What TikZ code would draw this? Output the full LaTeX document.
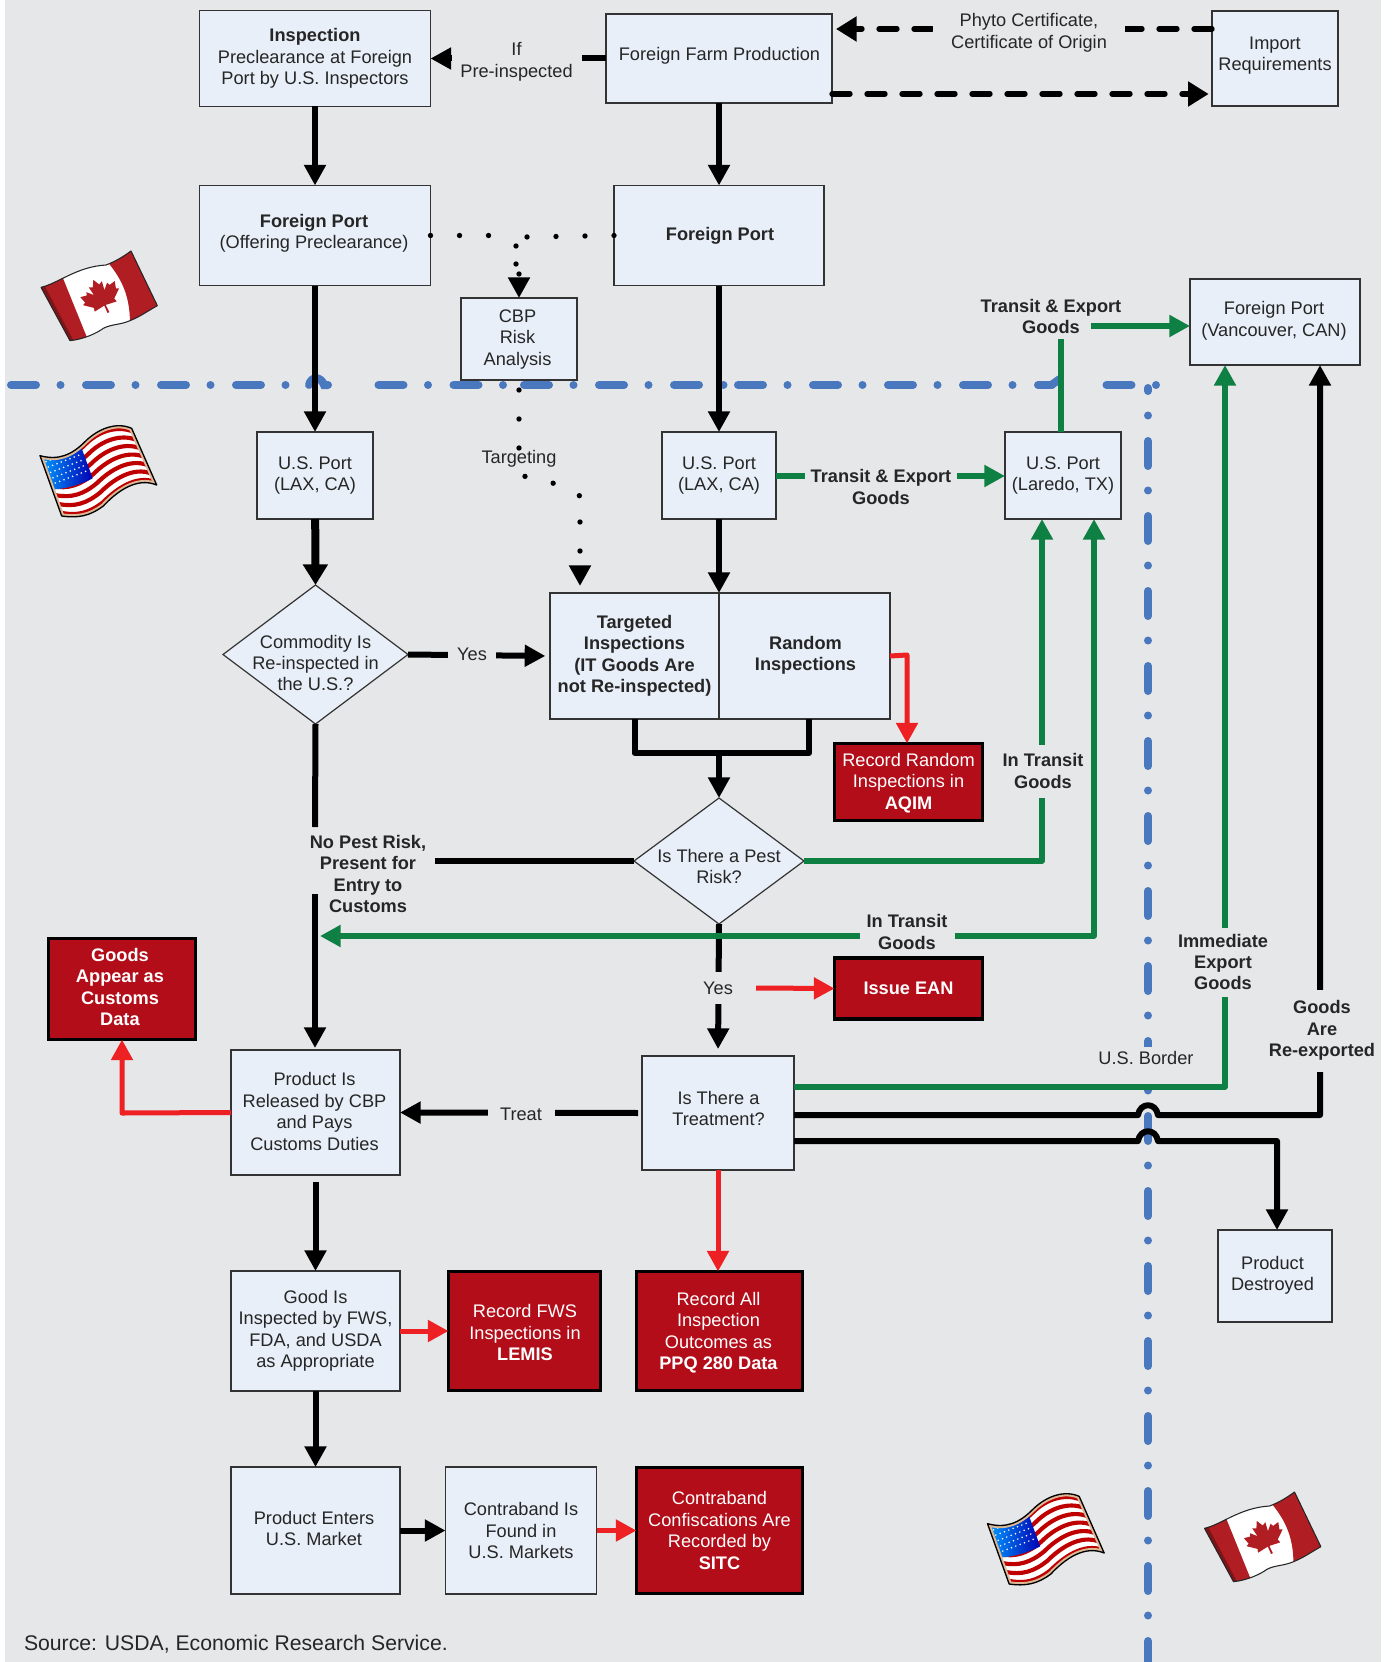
\documentclass[tikz,border=0pt]{standalone}
\usepackage{fontspec}
\setmainfont{Liberation Sans}
\usetikzlibrary{arrows.meta,shapes.geometric,calc}
\definecolor{bgc}{HTML}{E6E7E9}
\definecolor{boxc}{HTML}{E8EFF8}
\definecolor{edgec}{HTML}{333333}
\definecolor{redbox}{HTML}{B20D19}
\definecolor{redline}{HTML}{ED2024}
\definecolor{greenl}{HTML}{0F8043}
\definecolor{bluel}{HTML}{4A78BF}
\definecolor{txtc}{HTML}{262626}
\definecolor{flagred}{HTML}{B01E23}
\newcommand{\fs}{\fontsize{13.65}{16.1}\selectfont}
\tikzset{
  wh/.style 2 args={minimum width=#1*0.75pt,minimum height=#2*0.75pt},
  every node/.append style={font=\fs,text=txtc,align=center,inner sep=0pt,outer sep=0pt},
  lbox/.style={rectangle,draw=edgec,fill=boxc,line width=1.1pt},
  rbox/.style={rectangle,draw=black,fill=redbox,line width=2.5pt,text=white},
  dia/.style={diamond,draw=edgec,fill=boxc,line width=.9pt},
  lab/.style={rectangle,fill=bgc},
  blk/.style={draw=black,line width=4.5pt,line join=round},
  blkwide/.style={draw=black,line width=6pt,line join=round},
  dashk/.style={draw=black,line width=4pt,line cap=round,dash pattern=on 13.5pt off 12.75pt},
  dotk/.style={draw=black,line width=4pt,line cap=round,dash pattern=on 0pt off 21.75pt},
  dotkb/.style={draw=black,line width=4pt,line cap=round,dash pattern=on 0pt off 13.5pt},
  grn/.style={draw=greenl,line width=4pt,line join=round},
  rd/.style={draw=redline,line width=3.75pt,line join=round},
  blu/.style={draw=bluel,line width=6pt,line cap=round,dash pattern=on 18.75pt off 18.375pt on 0pt off 19.125pt},
}
\newcommand{\canflag}[2]{%
\begin{scope}[shift={(#1,#2)},x=.25pt,y=-.25pt]
\def\canpath{(123,202) .. controls (175,190) and (230,140) .. (318,135) .. controls (345,125) and (370,110) .. (393,93) -- (472,257) .. controls (440,275) and (420,290) .. (390,302) .. controls (360,315) and (335,312) .. (310,325) .. controls (290,340) and (250,358) .. (210,362) -- cycle}
\fill[white] \canpath;
\begin{scope}
\clip \canpath;
\fill[flagred] (100,150) -- (187,170) -- (268,370) -- (180,380) -- cycle;
\fill[flagred] (318,120) .. controls (360,170) and (390,220) .. (390,310) -- (500,300) -- (420,60) -- cycle;
\fill[flagred!70!black] (110,195) -- (135,200) -- (225,370) -- (200,370) -- cycle;
\end{scope}
\draw[black!85,line width=.8pt,line join=round] \canpath;
\begin{scope}[shift={(306,236)},rotate=25,x=1.55pt,y=1.55pt]
\fill[flagred] (0,10) -- (1.7,6.8) -- (3.5,7.7) -- (2.8,3.2) -- (5.5,6) -- (6.1,4.5) -- (9.2,5.1) -- (8.2,1.7) -- (9.6,1) -- (5.4,-2.4) -- (5.9,-4.2) -- (.4,-3.5) -- (.5,-7.4) -- (-.5,-7.4) -- (-.4,-3.5) -- (-5.9,-4.2) -- (-5.4,-2.4) -- (-9.6,1) -- (-8.2,1.7) -- (-9.2,5.1) -- (-6.1,4.5) -- (-5.5,6) -- (-2.8,3.2) -- (-3.5,7.7) -- (-1.7,6.8) -- cycle;
\end{scope}
\end{scope}}
\newcommand{\usaflag}[2]{%
\begin{scope}[shift={(#1,#2)},x=.25pt,y=-.25pt]
\def\uspath{(120,707) .. controls (175,722) and (215,705) .. (255,665) .. controls (295,625) and (350,605) .. (395,625) -- (470,795) .. controls (410,770) and (350,815) .. (310,858) .. controls (270,888) and (235,895) .. (185,888) -- cycle}
\coordinate (Ta) at (125,712);\coordinate (Tb) at (175,722);\coordinate (Tc) at (215,705);\coordinate (Td) at (255,665);\coordinate (Te) at (295,625);\coordinate (Tf) at (350,610);\coordinate (Tg) at (395,628);
\coordinate (Ba) at (187,885);\coordinate (Bb) at (235,895);\coordinate (Bc) at (270,885);\coordinate (Bd) at (310,855);\coordinate (Be) at (350,815);\coordinate (Bf) at (410,770);\coordinate (Bg) at (468,792);
\fill[white] \uspath;
\begin{scope}
\clip \uspath;
\foreach \s in {0.0385,0.192,0.346,0.5,0.654,0.808,0.962}{
\draw[line width=3.1pt,draw=red!75!black] ($(Ta)!\s!(Ba)$) .. controls ($(Tb)!\s!(Bb)$) and ($(Tc)!\s!(Bc)$) .. ($(Td)!\s!(Bd)$) .. controls ($(Te)!\s!(Be)$) and ($(Tf)!\s!(Bf)$) .. ($(Tg)!\s!(Bg)$);}
\shade[left color=cyan!60!blue,right color=blue!70!black] (125,712) .. controls (165,722) and (205,712) .. (245,685) -- (278,775) .. controls (240,795) and (200,805) .. (165,808) -- cycle;
\foreach \i in {0,...,7}{\foreach \j in {0,...,4}{
\fill[white] ({138+\i*13+\j*7},{725-\i*5+\j*16}) circle (2.6);}}
\draw[line width=4pt,draw=brown!55!white] \uspath;
\end{scope}
\draw[black,line width=1pt,line join=round] \uspath;
\end{scope}}
\begin{document}
\begin{tikzpicture}[x=.75pt,y=-.75pt,>={Triangle[width=15.75pt,length=15.5pt]}]
\useasboundingbox (0,0) rectangle (1392,1662);
\fill[white] (0,0) rectangle (1392,1662);
\fill[bgc] (5,0) rectangle (1381,1662);
% border
\draw[blu] (11,385) -- (300,385);
\draw[draw=bluel,line width=6pt,line cap=round] (309,385) .. controls (311,376) and (321,376) .. (324,385) -- (328,385);
\draw[blu,dash phase=37.125pt] (353,385) -- (510,385);
\draw[blu] (524,385) -- (725,385);
\draw[blu] (738,385) -- (1052,385);
\draw[draw=bluel,line width=6pt,line cap=round] (1050,385) .. controls (1053,385) and (1056,381) .. (1060,379);
\draw[blu,dash phase=37.125pt] (1081,385) -- (1157,385);
\draw[blu,dash phase=16.5pt] (1148,388) -- (1148,1662);
% flags
\canflag{0}{220}
\usaflag{0}{220}
\canflag{1163.5}{1461}
\usaflag{947.5}{1288}
% nodes
\node[lbox,wh={231}{96}] (insp) at (315,58.5) {\textbf{Inspection}\\Preclearance at Foreign\\Port by U.S. Inspectors};
\node[lbox,wh={226}{89}] (farm) at (719,58.5) {};
\node (farmt) at (719.5,56) {Foreign Farm Production};
\node[lbox,wh={126}{95}] (imp) at (1275,58.5) {};
\node (impt) at (1275,55.5) {Import\\Requirements};
\node[lbox,wh={231}{100}] (fpl) at (315,235.5) {};
\node (fplt) at (314,233.5) {\textbf{Foreign Port}\\(Offering Preclearance)};
\node[lbox,wh={210}{100}] (fpr) at (719,235.5) {};
\node (fprt) at (720,236) {\textbf{Foreign Port}};
\node[lbox,wh={116}{82}] (cbp) at (519,339) {};
\node (cbpt) at (517.5,339.5) {CBP\\Risk\\Analysis};
\node[lbox,wh={170}{86}] (van) at (1275,322) {};
\node (vant) at (1274,321) {Foreign Port\\(Vancouver, CAN)};
\node[lbox,wh={116}{87}] (usl) at (315,475.5) {U.S. Port\\(LAX, CA)};
\node[lbox,wh={114}{87}] (usm) at (719,475.5) {U.S. Port\\(LAX, CA)};
\node[lbox,wh={116}{87}] (lar) at (1063,475.5) {U.S. Port\\(Laredo, TX)};
\node[dia,wh={185}{139},aspect=1.33] (comm) at (315.5,654.5) {};
\node (commt) at (315.5,663) {Commodity Is\\Re-inspected in\\the U.S.?};
\node[lbox,wh={169}{126}] (targ) at (634.5,656) {\textbf{Targeted}\\\textbf{Inspections}\\\textbf{(IT Goods Are}\\\textbf{not Re-inspected)}};
\node[lbox,wh={171}{126}] (rand) at (804.5,656) {};
\node (randt) at (805.5,655.5) {\textbf{Random}\\\textbf{Inspections}};
\node[rbox,wh={148}{77}] (rr) at (908.5,782) {};
\node[text=white] (rrt) at (908.5,783) {Record Random\\Inspections in\\\textbf{AQIM}};
\node[dia,wh={170}{126},aspect=1.35] (pest) at (719,861) {};
\node (pestt) at (719,866.5) {Is There a Pest\\Risk?};
\node[rbox,wh={147}{101}] (appear) at (122,989) {};
\node[text=white] (appeart) at (120,987) {\textbf{Goods}\\\textbf{Appear as}\\\textbf{Customs}\\\textbf{Data}};
\node[rbox,wh={148}{61}] (ean) at (908.5,988.5) {\textbf{Issue EAN}};
\node[lbox,wh={169}{125}] (rel) at (315.5,1112.5) {};
\node (relt) at (314.5,1111.5) {Product Is\\Released by CBP\\and Pays\\Customs Duties};
\node[lbox,wh={152}{114}] (treat) at (718,1113) {};
\node (treatt) at (718.5,1108.5) {Is There a\\Treatment?};
\node[lbox,wh={114}{92}] (destr) at (1275,1276) {};
\node (destrt) at (1272.5,1275.5) {Product\\Destroyed};
\node[lbox,wh={169}{120}] (good) at (315.5,1331) {Good Is\\Inspected by FWS,\\FDA, and USDA\\as Appropriate};
\node[rbox,wh={152}{119}] (fws) at (524.5,1331) {};
\node[text=white] (fwst) at (525,1332.5) {Record FWS\\Inspections in\\\textbf{LEMIS}};
\node[rbox,wh={166}{119}] (ppq) at (719.5,1331) {};
\node[text=white] (ppqt) at (718.5,1332.5) {Record All\\Inspection\\Outcomes as\\\textbf{PPQ 280 Data}};
\node[lbox,wh={169}{127}] (enter) at (315.5,1530.5) {};
\node (entert) at (314,1528.5) {Product Enters\\U.S. Market};
\node[lbox,wh={151}{127}] (found) at (521,1530.5) {Contraband Is\\Found in\\U.S. Markets};
\node[rbox,wh={166}{126}] (conf) at (719.5,1530.5) {Contraband\\Confiscations Are\\Recorded by\\\textbf{SITC}};
% helper coordinates
\coordinate (dja) at (500,235.5);
\coordinate (djb) at (524,237);
\coordinate (dc) at (516,246);
\coordinate (dd) at (516,265);
\coordinate (de) at (519,274);
\coordinate (tg0) at (519,390);
\coordinate (tg1) at (519,448);
\coordinate (tg2) at (525,476.4);
\coordinate (tg4) at (552.7,483);
\coordinate (tg5) at (580,496);
\coordinate (tg6) at (580,522);
\coordinate (tg3) at (580,586);
\coordinate (brk) at (719,753);
\coordinate (np1) at (315,827);
\coordinate (np2) at (315,894);
\coordinate (np3) at (435,861);
\coordinate (gt1) at (1061,339);
\coordinate (gt2) at (1091,326);
\coordinate (yesr) at (756,988);
% black connectors
\draw[blk,->] (insp) -- (fpl);
\draw[blk,->] (farm) -- (fpr);
\draw[blk,->] (farm.west) -- (insp.east);
\draw[blk,->] (fpl) -- (usl);
\draw[blk,->] (fpr) -- (usm);
\draw[blkwide,-{Triangle[width=18pt,length=15.5pt]}] (usl) -- (comm.north);
\draw[blk,->] (usm.south) -- (rand.north west);
\draw[blk,->,shorten >=3.5pt] (comm.east) -- (targ.west);
\draw[blk] (targ.south) |- (brk) -| (rand.south -| 809,0);
\draw[blk,->] (brk) -- (pest.north);
\draw[blk] (comm.south) -- (np1);
\draw[blk,->,shorten >=1.5pt] (np2) -- (rel.north -| 315,0);
\draw[blk] (pest.west) -- (np3);
\draw[blk,->,shorten >=5.25pt] (pest.south) -- (treat.north);
\draw[blk,->,shorten <=3pt] (treat.west) -- (rel.east);
\draw[blk,->,shorten <=5pt] (rel) -- (good);
\draw[blk,->] (good) -- (enter);
\draw[blk,->] (enter) -- (found);
\draw[blk,->] (treat.east |- 0,1115) -- (1138,1115) .. controls (1140,1102) and (1156,1102) .. (1158,1115) -- (1320,1115) -- (van.south -| 1320,0);
\draw[blk,->] (treat.east |- 0,1141) -- (1138,1141) .. controls (1140,1128) and (1156,1128) .. (1158,1141) -- (1277,1141) -- (destr.north -| 1277,0);
% dashed and dotted
\draw[dashk,-{Triangle[width=18pt,length=15.5pt]},shorten >=3pt] (imp.west |- 0,29) -- (farm.east |- 0,29);
\draw[dashk,-{Triangle[width=18pt,length=15.5pt]},shorten >=2.5pt] (farm.east |- 0,94) -- (imp.west |- 0,94);
\draw[dotk] (fpl.east) -- (dja);
\draw[dotk] (fpr.west) -- (djb);
\draw[dotkb] (dc) -- (dd);
\draw[dotk,->] (de) -- (cbp.north);
\draw[dotk] (tg0) -- (tg1) -- (tg2) -- (tg4) -- (tg5);
\draw[dotk,->] (tg6) -- (tg3);
% green
\draw[grn,->] (usm.east |- 0,476) -- (lar.west |- 0,476);
\draw[grn] (lar.north -| 1061,0) -- (gt1);
\draw[grn,->] (gt2) -- (van.west |- gt2);
\draw[grn,->] (pest.east) -| (lar.south -| 1042,0);
\draw[grn,<->] (lar.south -| 1094,0) -- (1094,936) -- (320,936);
\draw[grn,->] (treat.east |- 0,1087) -| (van.south -| 1225,0);
% red
\draw[rd,->] (rand.east) -- (907,655) -- (rr.north -| 907,0);
\draw[rd,->] (yesr) -- (ean.west);
\draw[rd,->] (rel.west) -- (122,1113) -- (appear.south);
\draw[rd,->] (treat.south) -- (ppq.north -| treat.south);
\draw[rd,->] (good) -- (fws);
\draw[rd,->] (found) -- (conf);
% labels
\node[lab,wh={130}{50}] (lifpre) at (516.5,62) {If\\Pre-inspected};
\node[lab,wh={192}{46}] (lphyto) at (1029,33) {Phyto Certificate,\\Certificate of Origin};
\node[lab,wh={152}{44}] (ltr1) at (881,487) {\textbf{Transit \& Export}\\\textbf{Goods}};
\node (ltr2) at (1051,316.5) {\textbf{Transit \& Export}\\\textbf{Goods}};
\node[lab,wh={80}{53}] (lit1) at (1043,771) {\textbf{In Transit}\\\textbf{Goods}};
\node[lab,wh={95}{42}] (lit2) at (907,932) {\textbf{In Transit}\\\textbf{Goods}};
\node[lab,wh={96}{69}] (lie) at (1223,962) {\textbf{Immediate}\\\textbf{Export}\\\textbf{Goods}};
\node[lab,wh={110}{82}] (lre) at (1322,1030.5) {\textbf{Goods}\\\textbf{Are}\\\textbf{Re-exported}};
\node[lab,wh={95}{23}] (lusb) at (1146,1058) {U.S. Border};
\node[lab,wh={48}{26}] (lyes1) at (472,654) {Yes};
\node (lnp) at (368,874) {\textbf{No Pest Risk,}\\\textbf{Present for}\\\textbf{Entry to}\\\textbf{Customs}};
\node[lab,wh={67}{26}] (ltreat) at (521,1114) {Treat};
\node[lab,wh={40}{32}] (lyes2) at (718,988) {Yes};
\node (ltarget) at (519,459) {Targeting};
\node[anchor=west,font=\fontsize{15.9}{18}\selectfont] (src) at (24,1644) {Source: USDA, Economic Research Service.};
\end{tikzpicture}
\end{document}
